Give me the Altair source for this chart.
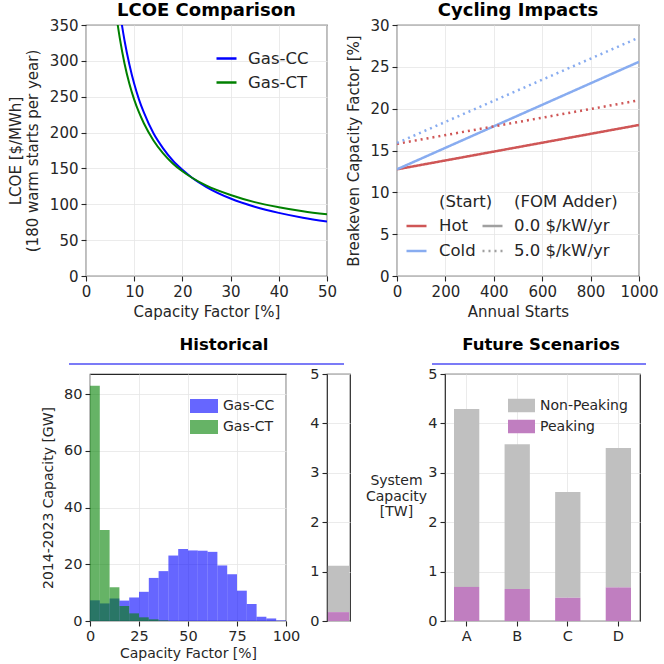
import altair as alt
import pandas as pd

FONT = "DejaVu Sans"
DARK = "#262626"

# ---------------- data ----------------
# Panel 1: LCOE vs capacity factor
cc_cf = [7.0, 7.5, 8, 9, 10, 11, 12, 14, 16, 18, 20, 22, 25, 30, 35, 40, 45, 50]
cc_lcoe = [371, 348, 328, 295, 268, 246, 228, 199, 178, 161, 148, 137, 124, 108, 96.6, 88, 81.3, 76]
ct_cf = [6.3, 6.6, 7, 8, 9, 10, 11, 12, 14, 16, 18, 20, 22, 25, 30, 35, 40, 45, 50]
ct_lcoe = [363, 349, 332, 296, 268, 246, 228, 213, 189, 171, 157, 146, 137, 126, 113, 103, 96, 90.4, 86]

# Panel 2: breakeven capacity factor vs annual starts
starts = [0, 1000]
hot_fom0 = [12.75, 18.05]
cold_fom0 = [12.75, 25.6]
hot_fom5 = [15.8, 21.0]
cold_fom5 = [15.9, 28.5]

# Panel 3: historical capacity histogram (GW per 5% bin)
bin_edges = list(range(0, 101, 5))
cc_hist = [7.3, 6.2, 7.9, 7.2, 8.3, 10.3, 15.2, 17.6, 23.1, 25.4,
           24.9, 24.8, 24.4, 19.6, 16.5, 10.7, 6.0, 1.5, 0.9, 0.2]
ct_hist = [83.0, 32.1, 11.9, 5.3, 2.7, 1.3, 0.6, 0.2, 0, 0,
           0, 0, 0, 0, 0, 0, 0, 0, 0, 0]

# Historical system capacity [TW]
hist_total = [1.12]
hist_peak = [0.18]

# Future scenarios [TW]
scenarios = ["A", "B", "C", "D"]
scen_total = [4.29, 3.58, 2.61, 3.50]
scen_peak = [0.69, 0.65, 0.47, 0.68]

seg_domain = ["Non-Peaking", "Peaking"]
seg_range = ["#c0c0c0", "#c07ec0"]

one = pd.DataFrame({"k": [0]})
RECT = "M-1,-0.5L1,-0.5L1,0.5L-1,0.5Z"


def spacer(w, h):
    return alt.Chart(one).mark_point(opacity=0).encode(
        x=alt.X("k:Q", axis=None), y=alt.Y("k:Q", axis=None)
    ).properties(width=w, height=h, view=alt.ViewBackground(stroke="transparent"))


# ---------------- panel 1 ----------------
W1, W2, HT = 241, 242, 251
lcoe_df = pd.DataFrame({
    "cf": cc_cf + ct_cf,
    "lcoe": cc_lcoe + ct_lcoe,
    "tech": ["Gas-CC"] * len(cc_cf) + ["Gas-CT"] * len(ct_cf),
})
p1_lines = alt.Chart(lcoe_df).mark_line(strokeWidth=2, clip=True, interpolate="monotone").encode(
    x=alt.X("cf:Q", scale=alt.Scale(domain=[0, 50], nice=False),
            axis=alt.Axis(values=[0, 10, 20, 30, 40, 50], title="Capacity Factor [%]", titlePadding=5)),
    y=alt.Y("lcoe:Q", scale=alt.Scale(domain=[0, 350], nice=False),
            axis=alt.Axis(values=list(range(0, 351, 50)),
                          title=["LCOE [$/MWh]", "(180 warm starts per year)"], titlePadding=9)),
    color=alt.Color("tech:N", scale=alt.Scale(domain=["Gas-CC", "Gas-CT"], range=["#0000ff", "#008000"]),
                    legend=alt.Legend(title=None, orient="none", legendX=129, legendY=22,
                                      symbolType="stroke", symbolSize=400, symbolStrokeWidth=2.5,
                                      labelFontSize=16.5, labelOffset=10, rowPadding=4, padding=0)),
)
p1_title = alt.Chart(one).mark_text(text="LCOE Comparison", fontSize=18, fontWeight="bold",
                                    baseline="alphabetic", align="center", color="black").encode(
    x=alt.value(W1 / 2), y=alt.value(-9))
p1_mark = alt.Chart(one).mark_rule(opacity=0).encode(x=alt.value(-85), y=alt.value(-24), y2=alt.value(296))
p1 = alt.layer(p1_lines, p1_title, p1_mark).properties(width=W1, height=HT)

# ---------------- panel 2 ----------------
cyc_df = pd.DataFrame({
    "starts": starts * 4,
    "cf": hot_fom0 + cold_fom0 + hot_fom5 + cold_fom5,
    "start": ["Hot"] * 2 + ["Cold"] * 2 + ["Hot"] * 2 + ["Cold"] * 2,
    "fom": ["0.0 $/kW/yr"] * 4 + ["5.0 $/kW/yr"] * 4,
})
p2_lines = alt.Chart(cyc_df).mark_line(strokeWidth=2.5, clip=True, strokeCap="butt").encode(
    x=alt.X("starts:Q", scale=alt.Scale(domain=[0, 1000], nice=False),
            axis=alt.Axis(values=list(range(0, 1001, 200)), format="d", title="Annual Starts", titlePadding=5)),
    y=alt.Y("cf:Q", scale=alt.Scale(domain=[0, 30], nice=False),
            axis=alt.Axis(values=list(range(0, 31, 5)), title="Breakeven Capacity Factor [%]", titlePadding=8)),
    color=alt.Color("start:N", scale=alt.Scale(domain=["Hot", "Cold"], range=["#cf5656", "#88acf0"]),
                    legend=alt.Legend(title="(Start)", orient="none", legendX=42, legendY=169,
                                      symbolType="stroke", symbolSize=400, symbolStrokeWidth=2.5,
                                      symbolOffset=-34, labelOffset=11, labelFontSize=16.5,
                                      titleFontSize=16.5, titleFontWeight="normal", titlePadding=4,
                                      rowPadding=5, padding=0)),
    strokeDash=alt.StrokeDash("fom:N", scale=alt.Scale(domain=["0.0 $/kW/yr", "5.0 $/kW/yr"],
                                                       range=[[1, 0], [2, 4]]),
                              legend=alt.Legend(title="(FOM Adder)", orient="none", legendX=117, legendY=169,
                                                symbolType="stroke", symbolSize=400, symbolStrokeWidth=2.5,
                                                symbolStrokeColor="#a0a0a0",
                                                symbolOffset=-33, labelOffset=10, labelFontSize=16.5,
                                                titleFontSize=16.5, titleFontWeight="normal", titlePadding=4,
                                                rowPadding=5, padding=0)),
)
p2_title = alt.Chart(one).mark_text(text="Cycling Impacts", fontSize=18, fontWeight="bold",
                                    baseline="alphabetic", align="center", color="black").encode(
    x=alt.value(W2 / 2), y=alt.value(-9))
p2 = alt.layer(p2_lines, p2_title).properties(width=W2, height=HT)

# ---------------- panel 3: histogram ----------------
WH, HB = 196, 247
hist_df = pd.DataFrame({
    "x0": bin_edges[:-1] * 2,
    "x1": bin_edges[1:] * 2,
    "v": cc_hist + ct_hist,
    "tech": ["Gas-CC"] * 20 + ["Gas-CT"] * 20,
})
hx = alt.X("x0:Q", scale=alt.Scale(domain=[0, 100], nice=False),
           axis=alt.Axis(values=[0, 25, 50, 75, 100], title="Capacity Factor [%]",
                         labelFontSize=14.5, titleFontSize=14, titlePadding=4))
hy = alt.Y("v:Q", scale=alt.Scale(domain=[0, 87.15], nice=False),
           axis=alt.Axis(values=[0, 20, 40, 60, 80], title="2014-2023 Capacity [GW]",
                         labelFontSize=14.5, titleFontSize=14, titlePadding=8))
hcolor = alt.Color("tech:N", scale=alt.Scale(domain=["Gas-CC", "Gas-CT"], range=["#0000ff", "#008000"]),
                   legend=alt.Legend(title=None, orient="none", legendX=100, legendY=18,
                                     symbolType=RECT, symbolSize=784, symbolOpacity=0.6, symbolStrokeWidth=0,
                                     labelFontSize=14, labelOffset=5, rowPadding=0, padding=0))
h_cc = alt.Chart(hist_df).transform_filter("datum.tech == 'Gas-CC'").mark_bar(opacity=0.6).encode(
    x=hx, x2="x1:Q", y=hy, y2=alt.datum(0), color=hcolor)
h_ct = alt.Chart(hist_df).transform_filter("datum.tech == 'Gas-CT'").mark_bar(opacity=0.6).encode(
    x=hx, x2="x1:Q", y=hy, y2=alt.datum(0), color=hcolor)
h_title = alt.Chart(one).mark_text(text="Historical", fontSize=16.5, fontWeight="bold",
                                   baseline="alphabetic", align="center", color="black").encode(
    x=alt.value(134), y=alt.value(-24))
h_line = alt.Chart(one).mark_rule(color="#7b7bf7", strokeWidth=2).encode(
    x=alt.value(-21), x2=alt.value(254), y=alt.value(-10))
h_mark = alt.Chart(one).mark_rule(opacity=0).encode(x=alt.value(0), y=alt.value(-44), y2=alt.value(0))
p3 = alt.layer(h_cc, h_ct, h_title, h_line, h_mark).properties(width=WH, height=HB)

# ---------------- small historical capacity bar ----------------
small_df = pd.DataFrame({
    "cat": ["Historical", "Historical"],
    "seg": seg_domain,
    "y0": [hist_peak[0], 0],
    "y1": [hist_total[0], hist_peak[0]],
})
p4 = alt.Chart(small_df).mark_bar().encode(
    x=alt.X("cat:N", axis=None, scale=alt.Scale(paddingInner=0, paddingOuter=0.04)),
    y=alt.Y("y1:Q", scale=alt.Scale(domain=[0, 5], nice=False),
            axis=alt.Axis(values=[0, 1, 2, 3, 4, 5], title=None, labelFontSize=14.5)),
    y2="y0:Q",
    color=alt.Color("seg:N", scale=alt.Scale(domain=seg_domain, range=seg_range), legend=None),
).properties(width=23, height=HB)

# ---------------- future scenarios ----------------
WF = 195
fut_df = pd.DataFrame({
    "scenario": scenarios * 2,
    "seg": ["Non-Peaking"] * 4 + ["Peaking"] * 4,
    "y0": scen_peak + [0, 0, 0, 0],
    "y1": scen_total + scen_peak,
})
f_bars = alt.Chart(fut_df).mark_bar().encode(
    x=alt.X("scenario:N", scale=alt.Scale(domain=scenarios, paddingInner=0.5, paddingOuter=0.178),
            axis=alt.Axis(title=None, labelAngle=0, bandPosition=0.5, labelFontSize=14.5)),
    y=alt.Y("y1:Q", scale=alt.Scale(domain=[0, 5], nice=False),
            axis=alt.Axis(values=[0, 1, 2, 3, 4, 5], title=["System", "Capacity", "[TW]"],
                          titleAngle=0, titleAlign="center", titleBaseline="middle",
                          titleX=-49, titleY=106.5, titleLineHeight=15.5,
                          labelFontSize=14.5, titleFontSize=14)),
    y2="y0:Q",
    color=alt.Color("seg:N", scale=alt.Scale(domain=seg_domain, range=seg_range),
                    legend=alt.Legend(title=None, orient="none", legendX=63, legendY=18,
                                      symbolType=RECT, symbolSize=729, symbolOpacity=1, symbolStrokeWidth=0,
                                      labelFontSize=14, labelOffset=5, rowPadding=0, padding=0)),
)
f_title = alt.Chart(one).mark_text(text="Future Scenarios", fontSize=16.5, fontWeight="bold",
                                   baseline="alphabetic", align="center", color="black").encode(
    x=alt.value(96), y=alt.value(-24))
f_line = alt.Chart(one).mark_rule(color="#7b7bf7", strokeWidth=2).encode(
    x=alt.value(-13), x2=alt.value(201), y=alt.value(-10))
p5 = alt.layer(f_bars, f_title, f_line).properties(width=WF, height=HB)

top = alt.hconcat(p1, p2, spacing=70, bounds="flush").resolve_scale(
    color="independent", strokeDash="independent")
bottom = alt.hconcat(spacer(4, HB), p3, spacer(41, HB), p4, spacer(95, HB), p5,
                     spacing=0, bounds="flush").resolve_scale(color="independent")

chart = alt.vconcat(top, bottom, spacing=7).resolve_scale(
    color="independent", strokeDash="independent"
).properties(
    padding=0
).configure(font=FONT).configure_view(
    stroke=DARK, strokeWidth=1.2
).configure_axis(
    domain=False, grid=True, gridColor="#e6e6e6", gridWidth=0.8,
    tickColor=DARK, tickSize=5, tickWidth=1.1,
    labelColor=DARK, titleColor=DARK, labelFontSize=15, titleFontSize=15,
    titleFontWeight="normal", labelPadding=3, labelFlush=False, labelOverlap=False,
    labelFont=FONT, titleFont=FONT
).configure_legend(
    labelColor=DARK, titleColor=DARK, labelFont=FONT, titleFont=FONT
)

chart.save("out.html", embed_options={"renderer": "svg", "actions": False})
